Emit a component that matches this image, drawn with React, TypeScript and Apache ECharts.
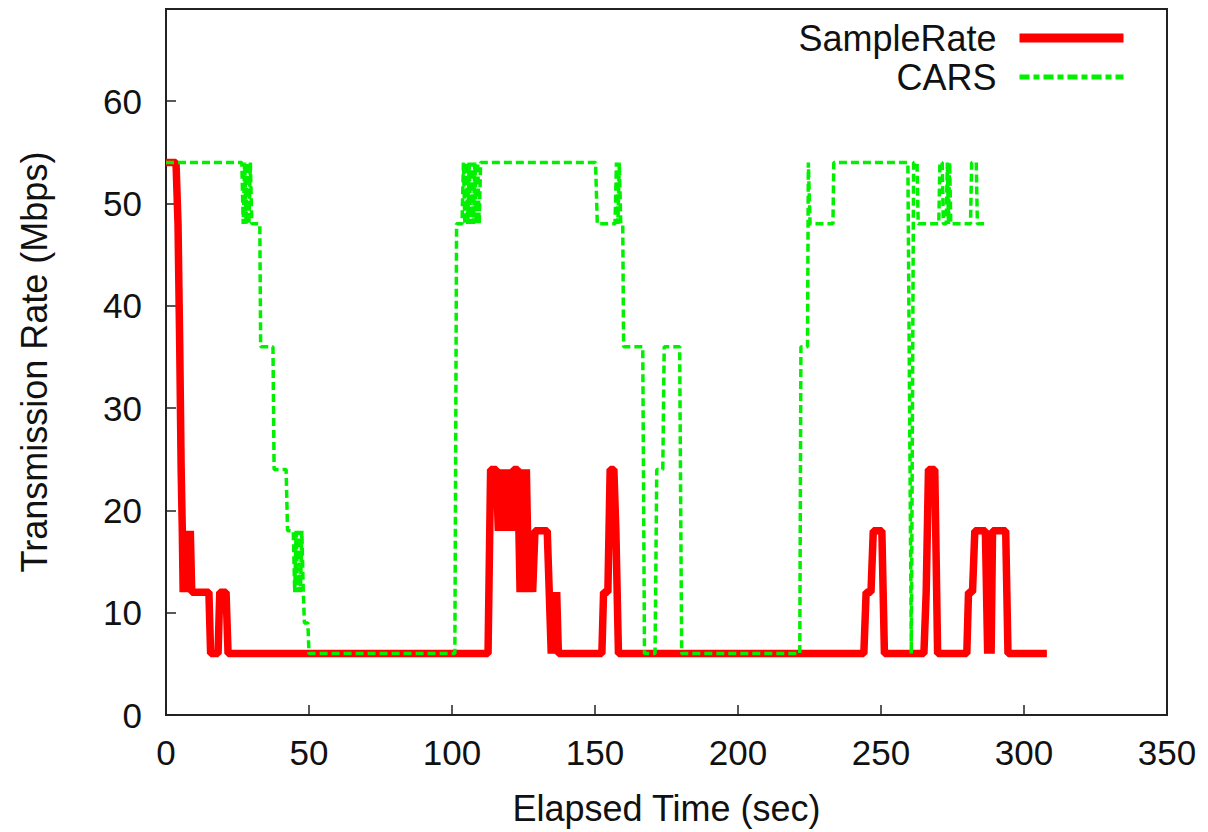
import React, { useEffect, useRef } from "react";
import * as echarts from "echarts";

// Elapsed time (sec) and rate (Mbps) for SampleRate
const sampleRateTime = [
  0, 3.5, 4.2, 4.8, 5.3, 5.7, 6.0, 6.5, 7.0, 7.5, 8.0, 8.5, 9.0, 15.0, 15.6, 18.2, 18.8, 21.0, 21.7,
  112.6, 113.5, 115.5, 116.2, 117.0, 117.8, 118.5, 119.3, 120.0, 120.8, 121.5, 123.0, 123.8, 124.5,
  125.3, 126.0, 126.8, 127.5, 128.2, 129.0, 133.3, 134.0, 134.7, 135.3, 136.0, 136.6, 137.2,
  152.4, 153.0, 154.5, 155.3, 156.6, 157.3, 158.2,
  244.0, 244.8, 246.5, 247.3, 250.3, 251.2,
  265.0, 265.8, 266.6, 268.8, 269.8,
  280.0, 280.6, 282.0, 282.8, 286.5, 287.3, 287.8, 288.5, 289.0, 293.6, 294.4, 308.0,
];
const sampleRateMbps = [
  54, 54, 48, 36, 24, 18, 12, 18, 12, 18, 12, 18, 12, 12, 6, 6, 12, 12, 6,
  6, 24, 24, 18, 24, 18, 24, 18, 24, 18, 24, 24, 12, 24,
  12, 24, 12, 18, 12, 18, 18, 12, 6, 12, 6, 12, 6,
  6, 12, 12, 24, 24, 18, 6,
  6, 12, 12, 18, 18, 6,
  6, 12, 24, 24, 6,
  6, 12, 12, 18, 18, 6, 18, 6, 18, 18, 6, 6,
];

// Elapsed time (sec) and rate (Mbps) for CARS
const carsTime = [
  0, 26.5, 27.0, 27.5, 28.0, 28.5, 29.0, 29.5, 30.0, 32.8, 33.1, 37.4, 37.8, 42.0, 42.5, 44.5,
  45.0, 45.5, 46.0, 46.5, 47.0, 47.5, 48.0, 48.4, 49.6, 50.0,
  101.0, 101.6, 103.5, 104.0, 104.5, 105.0, 105.5, 106.0, 106.5, 107.0, 107.5, 108.0, 108.5, 109.0,
  109.5, 110.0, 150.2, 150.8, 157.0, 157.5, 158.0, 158.5, 159.0, 159.7, 160.0, 166.7, 167.3,
  171.0, 171.6, 173.7, 174.2, 179.6, 180.3,
  221.6, 222.0, 224.3, 224.6, 225.2, 233.2, 233.5, 259.4, 260.6, 261.4, 262.6, 263.0,
  270.2, 270.6, 271.4, 271.8, 272.8, 273.2, 273.6, 274.0, 274.4, 281.3, 281.7, 283.3, 283.7, 287.0,
];
const carsMbps = [
  54, 54, 48, 54, 48, 54, 48, 54, 48, 48, 36, 36, 24, 24, 18, 18,
  12, 18, 12, 18, 12, 18, 12, 9, 9, 6,
  6, 48, 48, 54, 48, 54, 48, 54, 48, 54, 48, 54, 48, 54,
  48, 54, 54, 48, 48, 54, 48, 54, 48, 48, 36, 36, 6,
  6, 24, 24, 36, 36, 6,
  6, 36, 36, 54, 48, 48, 54, 54, 6, 54, 54, 48,
  48, 54, 54, 48, 48, 54, 48, 54, 48, 48, 54, 54, 48, 48,
];

const FONT = "'Liberation Sans', Arial, Helvetica, sans-serif";

export default function App() {
  const ref = useRef<HTMLDivElement>(null);

  useEffect(() => {
    if (!ref.current) return;
    const chart = echarts.init(ref.current, null, { renderer: "svg" });
    const srData = sampleRateTime.map((t, i) => [t, sampleRateMbps[i]]);
    const carsData = carsTime.map((t, i) => [t, carsMbps[i]]);
    chart.setOption({
      animation: false,
      backgroundColor: "#ffffff",
      textStyle: { fontFamily: FONT },
      grid: {
        left: 166,
        right: 41,
        top: 9,
        bottom: 117,
        show: true,
        borderColor: "#222",
        borderWidth: 2,
        backgroundColor: "transparent",
      },
      legend: {
        orient: "vertical",
        right: 80,
        top: 20,
        padding: 0,
        align: "right",
        itemWidth: 104,
        itemHeight: 20,
        itemGap: 3,
        selectedMode: false,
        itemStyle: { opacity: 0 },
        textStyle: {
          fontSize: 36,
          lineHeight: 36,
          color: "#111",
          fontFamily: FONT,
          padding: [0, 18, 0, 0],
        },
        data: [
          { name: "SampleRate", lineStyle: { color: "#ff0000", width: 9, type: "solid" } },
          { name: "CARS", lineStyle: { color: "#00f000", width: 5, type: [10, 4, 6, 4] } },
        ],
      },
      xAxis: {
        type: "value",
        min: 0,
        max: 350,
        interval: 50,
        name: "Elapsed Time (sec)",
        nameLocation: "middle",
        nameGap: 75,
        nameTextStyle: { fontSize: 36, color: "#111", fontFamily: FONT },
        axisLine: { show: true, lineStyle: { color: "#222", width: 2 } },
        axisTick: { show: true, inside: true, length: 10, lineStyle: { color: "#222", width: 1.5 } },
        axisLabel: { fontSize: 35, color: "#111", margin: 20, fontFamily: FONT },
        splitLine: { show: false },
      },
      yAxis: {
        type: "value",
        min: 0,
        max: 69,
        interval: 10,
        name: "Transmission Rate (Mbps)",
        nameLocation: "middle",
        nameGap: 114,
        nameTextStyle: { fontSize: 36, color: "#111", fontFamily: FONT },
        axisLine: { show: true, lineStyle: { color: "#222", width: 2 } },
        axisTick: { show: true, inside: true, length: 10, lineStyle: { color: "#222", width: 1.5 } },
        axisLabel: {
          fontSize: 35,
          color: "#111",
          margin: 24,
          fontFamily: FONT,
          showMaxLabel: false,
          formatter: (v: number) => (v % 10 === 0 ? String(v) : ""),
        },
        splitLine: { show: false },
      },
      series: [
        {
          name: "SampleRate",
          type: "line",
          data: srData,
          symbol: "none",
          color: "#ff0000",
          lineStyle: { color: "#ff0000", width: 7.5 },
          z: 2,
        },
        {
          name: "CARS",
          type: "line",
          data: carsData,
          symbol: "none",
          color: "#00ee00",
          lineStyle: { color: "#00f000", width: 3.5, type: [8, 4] },
          z: 3,
        },
      ],
    });
    return () => chart.dispose();
  }, []);

  return (
    <div
      ref={ref}
      style={{ position: "fixed", left: 0, top: 0, width: 1208, height: 832, background: "#fff" }}
    />
  );
}
